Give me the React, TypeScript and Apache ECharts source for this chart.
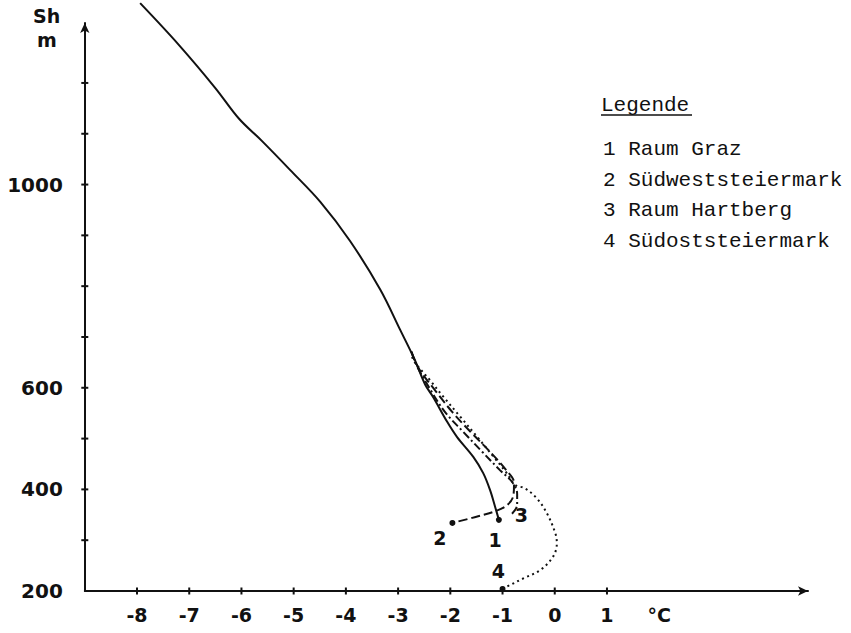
import { useEffect, useRef } from "react";
import * as echarts from "echarts";

// ---- data ----
const xTickValues = [-8, -7, -6, -5, -4, -3, -2, -1, 0, 1];
const yTickValues = [300, 400, 500, 600, 700, 800, 900, 1000, 1100, 1200];
const yLabelValues = [200, 400, 600, 1000];

const legendTitle = "Legende";
const legendItems = [
  "1 Raum Graz",
  "2 Südweststeiermark",
  "3 Raum Hartberg",
  "4 Südoststeiermark",
];

// curve 1: Raum Graz (solid)
const raumGraz: [number, number][] = [
  [-7.94, 1357], [-7.2, 1275], [-6.5, 1190], [-6.05, 1130], [-5.6, 1085],
  [-5.07, 1029], [-4.49, 966], [-3.92, 889], [-3.34, 793], [-2.96, 714],
  [-2.68, 655], [-2.48, 606], [-2.33, 582], [-2.06, 533], [-1.87, 503],
  [-1.56, 464], [-1.37, 432], [-1.24, 399], [-1.14, 365], [-1.07, 340],
];
// curve 2: Südweststeiermark (dashed)
const suedwest: [number, number][] = [
  [-2.74, 670], [-2.61, 639], [-2.27, 592], [-1.96, 552], [-1.61, 513],
  [-1.24, 474], [-0.93, 438], [-0.78, 413], [-0.79, 389], [-0.91, 369],
  [-1.17, 356], [-1.58, 344], [-1.96, 334],
];
// curve 3: Raum Hartberg (dash-dot)
const hartberg: [number, number][] = [
  [-2.74, 670], [-2.65, 645], [-2.38, 596], [-2.1, 552], [-1.75, 513],
  [-1.39, 474], [-1.05, 438], [-0.82, 415], [-0.72, 391], [-0.72, 369],
  [-0.82, 352],
];
// curve 4: Südoststeiermark (dotted)
const suedost: [number, number][] = [
  [-2.74, 672], [-2.71, 655], [-2.39, 615], [-2.13, 582], [-1.81, 543],
  [-1.49, 504], [-1.17, 464], [-0.92, 432], [-0.76, 409], [-0.57, 402],
  [-0.34, 382], [-0.15, 353], [0.01, 314], [0.04, 294], [-0.03, 268],
  [-0.28, 241], [-0.6, 225], [-0.85, 212], [-1.01, 205],
];

const endDots: [number, number][] = [[-1.07, 340], [-1.96, 334], [-1.0, 204]];
const curveLabels: [number, number, string][] = [
  [-1.14, 300, "1"], [-2.2, 304, "2"], [-0.64, 350, "3"], [-1.08, 240, "4"],
];

const INK = "#111111";
const NUM_FONT = "'DejaVu Sans', sans-serif";
const MONO = "'Liberation Mono', 'DejaVu Sans Mono', monospace";

export default function App() {
  const ref = useRef<HTMLDivElement>(null);

  useEffect(() => {
    if (!ref.current) return;
    const chart = echarts.init(ref.current, undefined, { renderer: "svg" });

    const lineBase = {
      type: "line" as const,
      showSymbol: false,
      smooth: 0.35,
      clip: false,
      silent: true,
    };

    const option: any = {
      animation: false,
      backgroundColor: "#ffffff",
      grid: { left: 84.8, right: 43, top: 23, bottom: 42 },
      xAxis: {
        type: "value",
        min: -9,
        max: 4.85,
        interval: 1,
        axisLine: {
          show: true,
          lineStyle: { color: INK, width: 2 },
          symbol: ["none", "arrow"],
          symbolSize: [7, 10],
          onZero: false,
        },
        axisTick: { show: false },
        splitLine: { show: false },
        axisLabel: {
          margin: 14,
          color: INK,
          fontFamily: NUM_FONT,
          fontWeight: "bold",
          fontSize: 19,
          showMaxLabel: false,
          formatter: (v: number) => {
            if (v === 2) return "°C";
            return xTickValues.includes(v) ? String(v) : "";
          },
        },
      },
      yAxis: {
        type: "value",
        min: 200,
        max: 1318,
        interval: 100,
        axisLine: {
          show: true,
          lineStyle: { color: INK, width: 2 },
          symbol: ["none", "arrow"],
          symbolSize: [7, 10],
          onZero: false,
        },
        axisTick: { show: false },
        splitLine: { show: false },
        axisLabel: {
          margin: 22,
          color: INK,
          fontFamily: NUM_FONT,
          fontWeight: "bold",
          fontSize: 20,
          showMaxLabel: false,
          formatter: (v: number) => (yLabelValues.includes(v) ? String(v) : ""),
        },
      },
      series: [
        {
          ...lineBase,
          name: "Raum Graz",
          data: raumGraz,
          lineStyle: { color: INK, width: 2 },
        },
        {
          ...lineBase,
          name: "Südweststeiermark",
          data: suedwest,
          lineStyle: { color: INK, width: 2, type: [9, 4] },
        },
        {
          ...lineBase,
          name: "Raum Hartberg",
          data: hartberg,
          lineStyle: { color: INK, width: 2, type: [8, 3, 2, 3] },
        },
        {
          ...lineBase,
          name: "Südoststeiermark",
          data: suedost,
          lineStyle: { color: INK, width: 2, type: [2, 3.5] },
        },
        {
          type: "scatter",
          name: "xTicks",
          silent: true,
          symbol: "rect",
          symbolSize: [2, 7],
          itemStyle: { color: INK, opacity: 1 },
          data: xTickValues.map((v) => [v, 200]),
        },
        {
          type: "scatter",
          name: "yTicks",
          silent: true,
          symbol: "rect",
          symbolSize: [7, 2],
          itemStyle: { color: INK, opacity: 1 },
          data: yTickValues.map((v) => [-9, v]),
        },
        {
          type: "scatter",
          name: "ends",
          silent: true,
          symbol: "circle",
          symbolSize: 6,
          itemStyle: { color: INK, opacity: 1 },
          data: endDots,
        },
        {
          type: "scatter",
          name: "labels",
          silent: true,
          symbolSize: 1,
          itemStyle: { color: "#ffffff", opacity: 0 },
          data: curveLabels,
          label: {
            show: true,
            position: "inside",
            formatter: (p: any) => p.data[2],
            color: INK,
            opacity: 1,
            fontFamily: NUM_FONT,
            fontWeight: "bold",
            fontSize: 19,
          },
        },
      ],
      graphic: [
        {
          type: "text",
          left: 33,
          top: 6,
          style: { text: "Sh", fill: INK, font: `bold 19px ${NUM_FONT}` },
        },
        {
          type: "text",
          left: 37,
          top: 30,
          style: { text: "m", fill: INK, font: `bold 19px ${NUM_FONT}` },
        },
        {
          type: "text",
          left: 601,
          top: 95,
          style: { text: legendTitle, fill: INK, font: `21px ${MONO}` },
        },
        {
          type: "line",
          shape: { x1: 601, y1: 115, x2: 692, y2: 115 },
          style: { stroke: INK, lineWidth: 1.5 },
        },
        ...legendItems.map((t, i) => ({
          type: "text",
          left: 603,
          top: 139 + i * 30.7,
          style: { text: t, fill: INK, font: `21px ${MONO}` },
        })),
      ],
    };

    chart.setOption(option);
    return () => chart.dispose();
  }, []);

  return (
    <div
      ref={ref}
      style={{ position: "fixed", left: 0, top: 0, width: 851, height: 633, background: "#fff" }}
    />
  );
}
